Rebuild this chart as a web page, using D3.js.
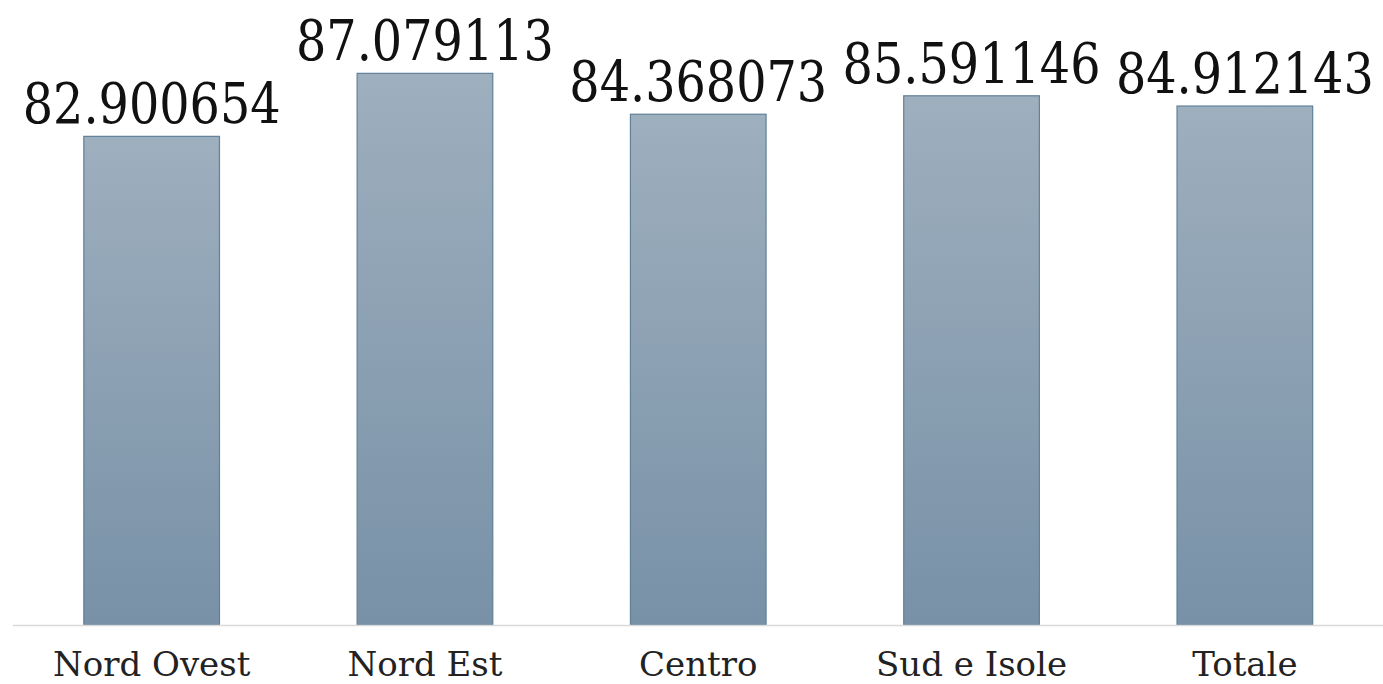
<!DOCTYPE html>
<html>
<head>
<meta charset="utf-8">
<script src="https://cdn.jsdelivr.net/npm/d3@7"></script>
<style>
  html, body { margin: 0; padding: 0; background: #ffffff; }
  svg { display: block; }
  .serif { font-family: "DejaVu Serif", serif; }
</style>
</head>
<body>
<script>
const categories = ["Nord Ovest", "Nord Est", "Centro", "Sud e Isole", "Totale"];
const values = [82.900654, 87.079113, 84.368073, 85.591146, 84.912143];
const valueLabels = ["82.900654", "87.079113", "84.368073", "85.591146", "84.912143"];

const W = 1383, H = 684;
const svg = d3.select("body").append("svg").attr("width", W).attr("height", H);

const defs = svg.append("defs");
const grad = defs.append("linearGradient").attr("id", "barGrad")
  .attr("x1", 0).attr("y1", 0).attr("x2", 0).attr("y2", 1);
grad.append("stop").attr("offset", "0%").attr("stop-color", "#9eafbe");
grad.append("stop").attr("offset", "100%").attr("stop-color", "#7891a7");

const x = d3.scaleBand().domain(categories).range([15, 1381.5])
  .paddingInner(0.5).paddingOuter(0.25);
const y = d3.scaleLinear().domain([50.5, 90]).range([625, 29.3]);

// bars
svg.append("g").selectAll("rect").data(values).join("rect")
  .attr("x", (d, i) => x(categories[i]) + 0.5)
  .attr("y", d => y(d))
  .attr("width", x.bandwidth() - 1)
  .attr("height", d => y.range()[0] - y(d))
  .attr("fill", "url(#barGrad)")
  .attr("stroke", "#5f8199")
  .attr("stroke-width", 1.2);

// axis
const axis = d3.axisBottom(x).tickSize(0).tickPadding(0);
const gx = svg.append("g").attr("transform", `translate(0,${y.range()[0]})`).call(axis);
gx.attr("font-family", null).attr("font-size", null);
gx.select(".domain").attr("d", "M13,0.5H1383").attr("stroke", "#d9d9d9").attr("stroke-width", 1.5);
gx.selectAll(".tick text")
  .attr("class", "serif")
  .attr("y", 51).attr("dy", null)
  .style("font-size", "34px")
  .attr("fill", "#222");

// value labels (horizontally condensed to match the narrow serif of the original)
const targetWidth = 258;
svg.append("g").selectAll("text").data(values).join("text")
  .attr("class", "serif")
  .attr("text-anchor", "middle")
  .style("font-size", "56px")
  .attr("fill", "#111")
  .text((d, i) => valueLabels[i])
  .each(function (d, i) {
    const w = this.getComputedTextLength() || targetWidth;
    const sx = targetWidth / w;
    const cx = x(categories[i]) + x.bandwidth() / 2;
    d3.select(this).attr("transform", `translate(${cx},${y(d) - 13}) scale(${sx},1)`);
  });
</script>
</body>
</html>
